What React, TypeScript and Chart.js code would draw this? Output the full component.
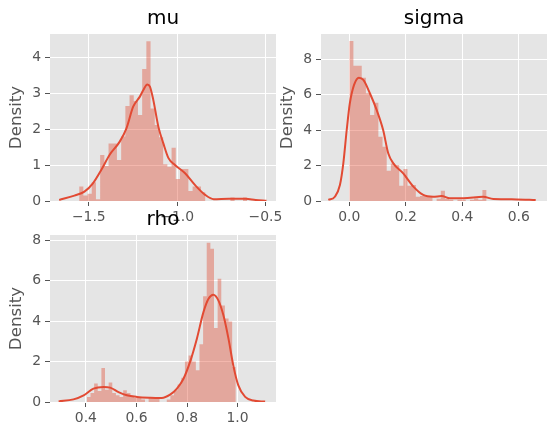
import React, { useEffect, useRef } from 'react';
import { Chart, registerables } from 'chart.js';

Chart.register(...registerables);

// ---------- data ----------
const MU_BIN_START = -1.555;
const MU_BIN_WIDTH = 0.0238;
const MU_HIST = [0.40, 0.15, 0.20, 0.52, 0.05, 1.28, 0.97, 1.60, 1.60, 1.14, 1.79, 2.64, 2.94, 2.78, 2.39, 3.67, 4.44, 2.57, 2.11, 1.77, 1.02, 0.95, 1.48, 0.61, 0.89, 0.89, 0.28, 0.40, 0.40, 0.24, 0, 0, 0, 0, 0, 0, 0.10, 0, 0, 0.10];
const MU_KDE_X = [-1.668, -1.582, -1.525, -1.477, -1.430, -1.383, -1.325, -1.287, -1.249, -1.211, -1.192, -1.169, -1.154, -1.135, -1.106, -1.078, -1.049, -1.012, -0.955, -0.898, -0.841, -0.793, -0.707, -0.612, -0.555, -0.494];
const MU_KDE_Y = [0.03, 0.15, 0.26, 0.49, 0.86, 1.28, 1.65, 2.02, 2.62, 2.90, 3.08, 3.24, 3.18, 2.81, 2.06, 1.60, 1.19, 1.00, 0.77, 0.44, 0.17, 0.05, 0.06, 0.06, 0.03, 0.01];
const MU_XTICKS = [-1.5, -1.0, -0.5];
const MU_YTICKS = [0, 1, 2, 3, 4];

const SIGMA_BIN_START = 0.0;
const SIGMA_BIN_WIDTH = 0.01473;
const SIGMA_HIST = [9.01, 7.62, 7.62, 6.95, 6.07, 4.85, 5.54, 3.62, 3.06, 1.71, 2.12, 2.03, 0.86, 1.80, 0.86, 0.90, 0.24, 0.28, 0.28, 0.28, 0, 0.12, 0.58, 0.12, 0.07, 0, 0.07, 0.07, 0, 0.07, 0.14, 0.07, 0.62];
const SIGMA_KDE_X = [-0.074, -0.051, -0.033, -0.021, -0.009, 0.002, 0.017, 0.034, 0.050, 0.073, 0.097, 0.120, 0.138, 0.156, 0.191, 0.227, 0.262, 0.297, 0.327, 0.356, 0.404, 0.474, 0.510, 0.593, 0.660];
const SIGMA_KDE_Y = [0.06, 0.24, 0.90, 2.12, 4.00, 5.50, 6.54, 6.95, 6.82, 6.07, 5.13, 4.00, 2.69, 2.12, 1.56, 0.81, 0.34, 0.24, 0.28, 0.15, 0.15, 0.24, 0.11, 0.09, 0.06];
const SIGMA_XTICKS = [0.0, 0.2, 0.4, 0.6];
const SIGMA_YTICKS = [0, 2, 4, 6, 8];

const RHO_BIN_START = 0.4038;
const RHO_BIN_WIDTH = 0.01437;
const RHO_HIST = [0.25, 0.44, 0.91, 0.54, 1.68, 0.61, 0.96, 0.44, 0.33, 0.25, 0.58, 0.44, 0.25, 0.20, 0.20, 0.12, 0, 0.20, 0.20, 0.25, 0, 0, 0.12, 0.33, 0.58, 0.86, 1.20, 2.00, 2.30, 2.00, 1.57, 2.85, 5.22, 7.87, 7.57, 3.65, 6.09, 4.77, 4.12, 3.98, 1.73];
const RHO_KDE_X = [0.292, 0.351, 0.391, 0.430, 0.470, 0.496, 0.529, 0.562, 0.602, 0.654, 0.700, 0.733, 0.760, 0.786, 0.812, 0.839, 0.865, 0.885, 0.904, 0.924, 0.944, 0.964, 0.983, 1.003, 1.030, 1.062, 1.109];
const RHO_KDE_Y = [0.03, 0.13, 0.33, 0.66, 0.74, 0.71, 0.49, 0.33, 0.25, 0.21, 0.20, 0.36, 0.66, 1.15, 1.98, 3.13, 4.44, 5.10, 5.30, 5.02, 4.28, 3.13, 1.81, 0.82, 0.25, 0.07, 0.02];
const RHO_XTICKS = [0.4, 0.6, 0.8, 1.0];
const RHO_YTICKS = [0, 2, 4, 6, 8];

// ---------- styling ----------
const FONT = 'DejaVu Sans';
const GREY = '#555555';
const LINE = '#E24A33';
const BAR = 'rgba(226,74,51,0.4)';
const BG = '#E5E5E5';

type PanelProps = {
  left: number; top: number; width: number; height: number; padRight: number;
  title: string; xmin: number; xmax: number; ymax: number;
  xticks: number[]; yticks: number[];
  binStart: number; binWidth: number; hist: number[];
  kdeX: number[]; kdeY: number[];
};

const fmtX = (v: number) => {
  const s = Math.abs(v).toFixed(1);
  return v < -1e-9 ? '\u2212' + s : s;
};

function Panel(p: PanelProps) {
  const ref = useRef<HTMLCanvasElement | null>(null);
  useEffect(() => {
    if (!ref.current) return;
    // histogram outline: value of bin i holds from its left edge to the next edge
    const steps = p.hist.map((h, i) => ({ x: p.binStart + i * p.binWidth, y: h }));
    steps.push({ x: p.binStart + p.hist.length * p.binWidth, y: p.hist[p.hist.length - 1] });
    const kde = p.kdeX.map((x, i) => ({ x, y: p.kdeY[i] }));
    const bgPlugin = {
      id: 'bg',
      beforeDraw(chart: any) {
        const { ctx, chartArea: a } = chart;
        ctx.save();
        ctx.fillStyle = BG;
        ctx.fillRect(a.left, a.top, a.right - a.left, a.bottom - a.top);
        ctx.restore();
      },
      afterDraw(chart: any) {
        const { ctx, chartArea: a } = chart;
        ctx.save();
        ctx.fillStyle = '#000000';
        ctx.font = `20px "${FONT}"`;
        ctx.textAlign = 'center';
        ctx.textBaseline = 'middle';
        ctx.fillText(p.title, (a.left + a.right) / 2, 19);
        ctx.restore();
      },
    };
    const chart = new Chart(ref.current, {
      type: 'line',
      data: {
        datasets: [
          {
            type: 'line',
            data: kde,
            borderColor: LINE,
            borderWidth: 2,
            pointRadius: 0,
            cubicInterpolationMode: 'monotone',
            fill: false,
            order: 0,
          } as any,
          {
            type: 'line',
            data: steps,
            stepped: 'before',
            backgroundColor: BAR,
            borderColor: 'rgba(0,0,0,0)',
            borderWidth: 0,
            pointRadius: 0,
            fill: 'origin',
            order: 1,
          } as any,
        ],
      },
      options: {
        responsive: false,
        animation: false,
        devicePixelRatio: 1,
        layout: { padding: { top: 34, right: p.padRight, left: 0, bottom: 0 } },
        plugins: { legend: { display: false }, tooltip: { enabled: false } },
        scales: {
          x: {
            type: 'linear',
            min: p.xmin,
            max: p.xmax,
            offset: false,
            afterBuildTicks: (s: any) => { s.ticks = p.xticks.map((v) => ({ value: v })); },
            afterFit: (s: any) => { s.height = 24; },
            grid: { color: '#FFFFFF', lineWidth: 1, tickColor: GREY, tickLength: 5, tickWidth: 1, offset: false },
            border: { display: false },
            ticks: {
              padding: 3,
              color: GREY,
              font: { family: FONT, size: 13.9 },
              maxRotation: 0,
              autoSkip: false,
              callback: (v: any) => fmtX(Number(v)),
            },
          },
          y: {
            type: 'linear',
            min: 0,
            max: p.ymax,
            afterBuildTicks: (s: any) => { s.ticks = p.yticks.map((v) => ({ value: v })); },
            afterFit: (s: any) => { s.width = 50; },
            grid: { color: '#FFFFFF', lineWidth: 1, tickColor: GREY, tickLength: 5, tickWidth: 1 },
            border: { display: false },
            title: {
              display: true,
              text: 'Density',
              color: GREY,
              font: { family: FONT, size: 16.7 },
              padding: { top: 6.7, bottom: 0 },
            },
            ticks: {
              padding: 4,
              color: GREY,
              font: { family: FONT, size: 13.9 },
              autoSkip: false,
              callback: (v: any) => String(Math.round(Number(v))),
            },
          },
        },
      } as any,
      plugins: [bgPlugin],
    });
    return () => chart.destroy();
  }, []);
  return (
    <div style={{ position: 'absolute', left: p.left, top: p.top, width: p.width, height: p.height }}>
      <canvas ref={ref} width={p.width} height={p.height} style={{ width: p.width, height: p.height, display: 'block' }} />
    </div>
  );
}

export default function App() {
  return (
    <div style={{ position: 'absolute', left: 0, top: 0, width: 555, height: 436, overflow: 'hidden', background: '#FFFFFF' }}>
      <Panel left={0} top={0} width={291} height={225} padRight={15} title="mu"
        xmin={-1.72} xmax={-0.44} ymax={4.64} xticks={MU_XTICKS} yticks={MU_YTICKS}
        binStart={MU_BIN_START} binWidth={MU_BIN_WIDTH} hist={MU_HIST} kdeX={MU_KDE_X} kdeY={MU_KDE_Y} />
      <Panel left={271} top={0} width={284} height={225} padRight={8} title="sigma"
        xmin={-0.1} xmax={0.70} ymax={9.41} xticks={SIGMA_XTICKS} yticks={SIGMA_YTICKS}
        binStart={SIGMA_BIN_START} binWidth={SIGMA_BIN_WIDTH} hist={SIGMA_HIST} kdeX={SIGMA_KDE_X} kdeY={SIGMA_KDE_Y} />
      <Panel left={0} top={201} width={291} height={225} padRight={15} title="rho"
        xmin={0.258} xmax={1.152} ymax={8.25} xticks={RHO_XTICKS} yticks={RHO_YTICKS}
        binStart={RHO_BIN_START} binWidth={RHO_BIN_WIDTH} hist={RHO_HIST} kdeX={RHO_KDE_X} kdeY={RHO_KDE_Y} />
    </div>
  );
}
